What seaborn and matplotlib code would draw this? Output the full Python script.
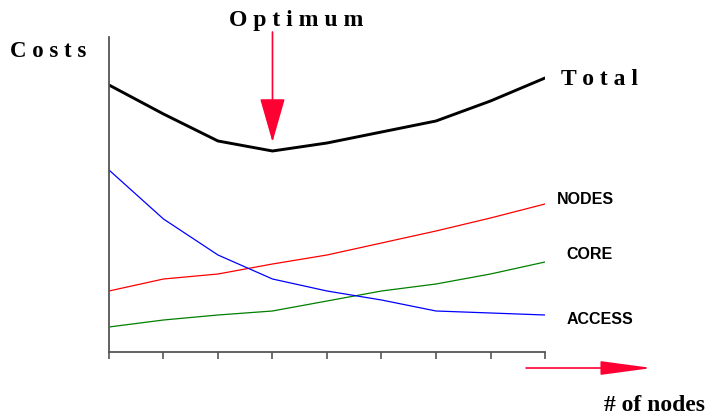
import matplotlib
matplotlib.use("Agg")
import matplotlib.pyplot as plt
import seaborn as sns

# number of nodes (no labels shown on the axis)
nodes = [1, 2, 3, 4, 5, 6, 7, 8, 9]
total = [267, 238, 211, 201, 209, 220, 231, 251, 274]
node_cost = [61, 73, 78, 88, 97, 109, 121, 134, 148]
core_cost = [25, 32, 37, 41, 51, 61, 68, 78, 90]
access_cost = [182, 133, 97, 73, 61, 52, 41, 39, 37]
optimum = 4

sns.set_style("white")
plt.rcParams['font.family'] = ['Liberation Serif', 'DejaVu Serif']
plt.rcParams['text.color'] = 'black'

fig = plt.figure(figsize=(7.09, 4.18), dpi=100)
ax = fig.add_axes([0.1537, 0.1579, 0.615, 0.7536])

sns.lineplot(x=nodes, y=total, color="black", linewidth=2.1, ax=ax)
sns.lineplot(x=nodes, y=node_cost, color="#ff0000", linewidth=0.9, ax=ax)
sns.lineplot(x=nodes, y=core_cost, color="#008000", linewidth=0.9, ax=ax)
sns.lineplot(x=nodes, y=access_cost, color="#0000ff", linewidth=0.9, ax=ax)

ax.set_xlim(1, 9)
ax.set_ylim(0, 315)
ax.set_xticks(nodes)
ax.set_xticklabels([])
ax.set_yticks([])
ax.tick_params(axis="x", direction="out", length=5, width=1.2, color="#555555", bottom=True)
for side in ["top", "right"]:
    ax.spines[side].set_visible(False)
for side in ["left", "bottom"]:
    ax.spines[side].set_color("#555555")
    ax.spines[side].set_linewidth(1.3)

# series labels
sans = ['Liberation Sans', 'DejaVu Sans']
ax.text(9.22, node_cost[-1] + 4, "NODES", family=sans, fontweight="bold", fontsize=11.5, va="center")
ax.text(9.40, core_cost[-1] + 7, "CORE", family=sans, fontweight="bold", fontsize=11.5, va="center")
ax.text(9.40, access_cost[-1] - 5, "ACCESS", family=sans, fontweight="bold", fontsize=11.5, va="center")
ax.text(9.29, total[-1] - 2, "T o t a l", fontweight="bold", fontsize=17, va="center")

# optimum arrow
ax.annotate("", xy=(optimum, 210), xytext=(optimum, 320), xycoords="data",
            arrowprops=dict(arrowstyle="-|>,head_width=0.8,head_length=2.8",
                            color="#ff0033", linewidth=1.2, shrinkA=0, shrinkB=0),
            annotation_clip=False)
fig.text(0.4175, 0.950, "O p t i m u m", fontweight="bold", fontsize=17, ha="center", va="center")
fig.text(0.014, 0.876, "C o s t s", fontweight="bold", fontsize=16.5, ha="left", va="center")

# x-axis arrow
ax.annotate("", xy=(0.9196, 0.1196), xytext=(0.742, 0.1196), xycoords="figure fraction",
            arrowprops=dict(arrowstyle="-|>,head_width=0.43,head_length=3.2",
                            color="#ff0033", linewidth=1.2, shrinkA=0, shrinkB=0))
fig.text(0.994, 0.030, "# of nodes", fontweight="bold", fontsize=17, ha="right", va="center")

fig.savefig("out.png", dpi=100)
